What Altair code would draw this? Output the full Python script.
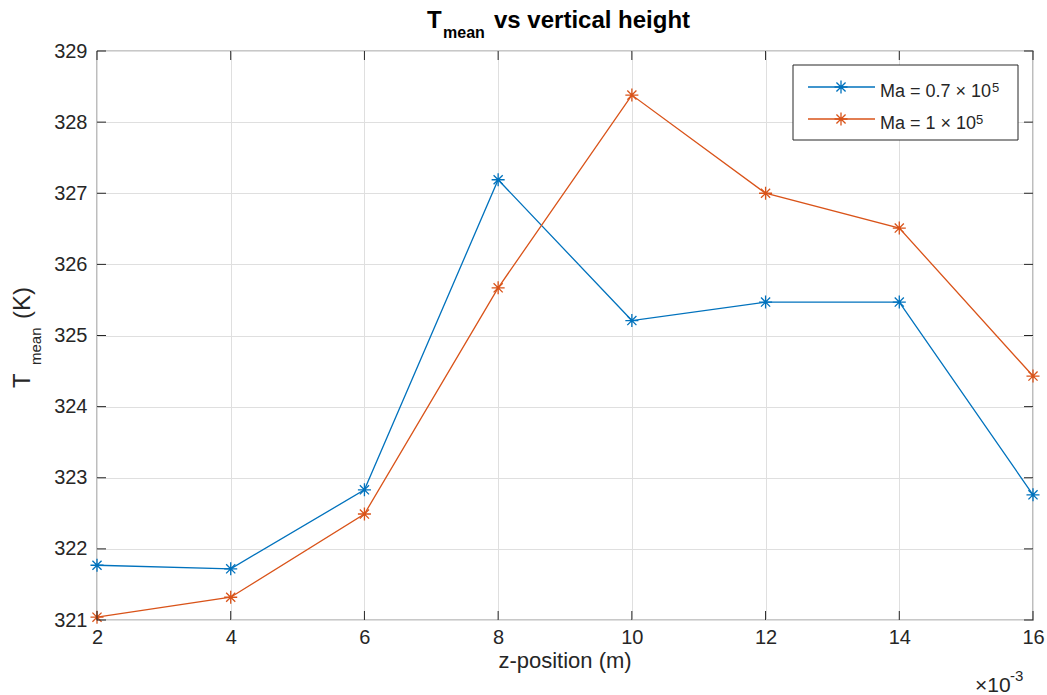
import altair as alt
import pandas as pd

# ---- data ----
z_m = [0.002, 0.004, 0.006, 0.008, 0.010, 0.012, 0.014, 0.016]
t_ma07 = [321.77, 321.72, 322.83, 327.19, 325.21, 325.47, 325.47, 322.76]
t_ma10 = [321.04, 321.32, 322.49, 325.67, 328.38, 327.00, 326.51, 324.43]
series_names = ["Ma = 0.7", "Ma = 1"]
series_colors = ["#0072BD", "#D95319"]
x_ticks = [0.002, 0.004, 0.006, 0.008, 0.010, 0.012, 0.014, 0.016]
y_ticks = [321, 322, 323, 324, 325, 326, 327, 328, 329]

df = pd.DataFrame({
    "z": z_m + z_m,
    "T": t_ma07 + t_ma10,
    "series": [series_names[0]] * len(z_m) + [series_names[1]] * len(z_m),
})

W, H = 936, 569
DARK = "#262626"
FONT = "Liberation Sans, Arial, Helvetica, sans-serif"
STAR = "M0,-1L0,1M-1,0L1,0M-0.7,-0.7L0.7,0.7M-0.7,0.7L0.7,-0.7"

x_scale = alt.Scale(domain=[0.002, 0.016], nice=False, zero=False)
y_scale = alt.Scale(domain=[321, 329], nice=False, zero=False)
c_scale = alt.Scale(domain=series_names, range=series_colors)

x_axis = alt.Axis(
    values=x_ticks, labelExpr="format(datum.value*1000, 'd')", title=None,
    grid=True, ticks=False, domain=False, labelPadding=7, labelFlush=False,
    labelOverlap=False, labelBound=False)
y_axis = alt.Axis(
    values=y_ticks, title=None, grid=True, ticks=False, domain=False,
    labelPadding=10, labelFlush=False, labelOverlap=False)

base = alt.Chart(df).encode(
    x=alt.X("z:Q", scale=x_scale, axis=x_axis),
    y=alt.Y("T:Q", scale=y_scale, axis=y_axis),
    color=alt.Color("series:N", scale=c_scale, legend=None),
)
lines = base.mark_line(strokeWidth=1.3)
points = base.mark_point(shape=STAR, size=170, filled=False, strokeWidth=1.3, opacity=1)

# inward ticks (MATLAB style)
tx = pd.DataFrame({"z": x_ticks})
ty = pd.DataFrame({"T": y_ticks})
TL = 9
def xtick(y0, y1):
    return alt.Chart(tx).mark_rule(color=DARK, strokeWidth=1).encode(
        x=alt.X("z:Q", scale=x_scale, axis=x_axis), y=alt.value(y0), y2=alt.value(y1))
def ytick(x0, x1):
    return alt.Chart(ty).mark_rule(color=DARK, strokeWidth=1).encode(
        y=alt.Y("T:Q", scale=y_scale, axis=y_axis), x=alt.value(x0), x2=alt.value(x1))
ticks = [xtick(H, H - TL), xtick(0, TL), ytick(0, TL), ytick(W, W - TL)]

one = pd.DataFrame({"a": [0]})
def txt(s, x, y, size, bold=False, angle=0, align="left", baseline="alphabetic", color=DARK):
    kw = dict(text=s, fontSize=size, font=FONT, align=align, baseline=baseline,
              color=color, fontWeight="bold" if bold else "normal")
    if angle:
        kw["angle"] = angle
    return alt.Chart(one).mark_text(**kw).encode(x=alt.value(x), y=alt.value(y))

texts = [
    # title
    txt("T", 330, -23, 24, bold=True, color="#000000"),
    txt("mean", 346, -13, 16, bold=True, color="#000000"),
    txt("vs vertical height", 397, -23, 24, bold=True, color="#000000"),
    # y label
    txt("T", -67, 337, 24, angle=270),
    txt("mean", -56, 314, 15, angle=270),
    txt("(K)", -67, 268, 24, angle=270),
    # x label
    txt("z-position (m)", W / 2, 617, 22, align="center"),
    txt("×10", 878, 641, 21),
    txt("-3", 913, 630, 15),
]

# legend
LX0, LX1, LY0, LY1 = 696, 921, 14, 89
rows = [36, 68]
legend = [alt.Chart(one).mark_rect(fill="white", stroke=DARK, strokeWidth=1).encode(
    x=alt.value(LX0), x2=alt.value(LX1), y=alt.value(LY0), y2=alt.value(LY1))]
leg_main = ["Ma = 0.7 × 10", "Ma = 1 × 10"]
sup_x = [895, 879]
for i, ry in enumerate(rows):
    legend.append(alt.Chart(one).mark_rule(color=series_colors[i], strokeWidth=1.3).encode(
        x=alt.value(711), x2=alt.value(778), y=alt.value(ry)))
    legend.append(alt.Chart(one).mark_point(shape=STAR, size=170, filled=False, strokeWidth=1.3,
                                            color=series_colors[i], opacity=1).encode(
        x=alt.value(744), y=alt.value(ry)))
    legend.append(txt(leg_main[i], 783, ry + 10, 18))
    legend.append(txt("5", sup_x[i], ry + 5, 13))

chart = alt.layer(lines, points, *ticks, *legend, *texts).properties(
    width=W, height=H,
    padding={"left": 97, "top": 51, "right": 14, "bottom": 75},
    autosize=alt.AutoSizeParams(type="none"),
    background="white",
).configure_view(stroke=DARK, strokeWidth=1.2).configure_axis(
    labelFont=FONT, labelFontSize=20, labelColor=DARK,
    gridColor="#dfdfdf", gridWidth=1, gridOpacity=1,
)

chart.save("out.html", embed_options={"renderer": "svg", "actions": False})
